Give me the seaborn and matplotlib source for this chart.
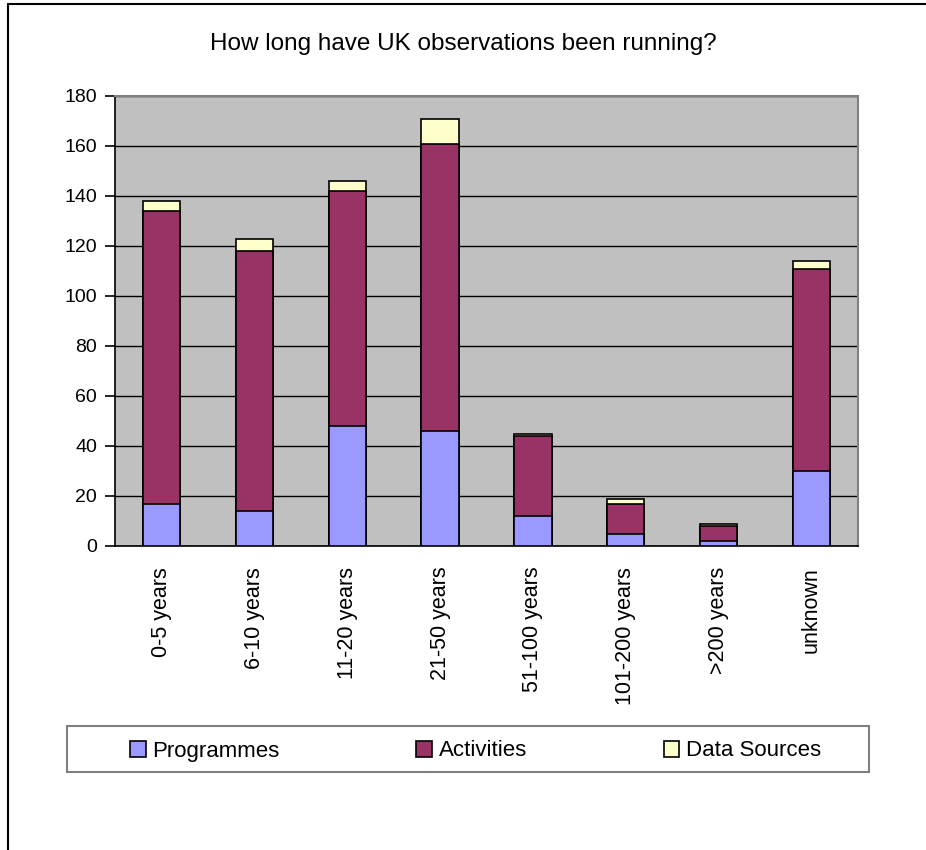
import matplotlib
matplotlib.use("Agg")
import matplotlib.pyplot as plt
from matplotlib.lines import Line2D
from matplotlib.patches import Patch, Rectangle
import numpy as np
import pandas as pd
import seaborn as sns

categories = ["0-5 years", "6-10 years", "11-20 years", "21-50 years",
              "51-100 years", "101-200 years", ">200 years", "unknown"]
programmes = [17, 14, 48, 46, 12, 5, 2, 30]
activities = [117, 104, 94, 115, 32, 12, 6, 81]
data_sources = [4, 5, 4, 10, 1, 2, 1, 3]

series_names = ["Programmes", "Activities", "Data Sources"]
series_colors = ["#9999FF", "#993366", "#FFFFCC"]
y_ticks = list(range(0, 181, 20))

sns.set_style("white")
plt.rcParams["font.family"] = ["Liberation Sans", "DejaVu Sans"]
plt.rcParams["text.color"] = "black"
plt.rcParams["xtick.color"] = "black"
plt.rcParams["ytick.color"] = "black"
plt.rcParams["axes.labelcolor"] = "black"

fig = plt.figure(figsize=(9.26, 8.5), dpi=100)
ax = fig.add_axes([115 / 926, 1 - 546 / 850, (858 - 115) / 926, (546 - 96) / 850])
ax.set_facecolor("#C0C0C0")

# Stacked bars: draw cumulative totals from top segment down
stack = np.vstack([programmes, activities, data_sources])
cum = np.cumsum(stack, axis=0)
for i in reversed(range(3)):
    df = pd.DataFrame({"cat": categories, "val": cum[i]})
    sns.barplot(data=df, x="cat", y="val", color=series_colors[i],
                saturation=1, width=0.4, edgecolor="black", linewidth=1.2,
                ax=ax, zorder=3)

ax.set_ylim(0, 180)
ax.set_xlim(-0.5, len(categories) - 0.5)
ax.set_yticks(y_ticks)
ax.set_yticklabels([str(t) for t in y_ticks], fontsize=14)
ax.yaxis.grid(True, color="black", linewidth=1.0, zorder=1)
ax.set_axisbelow(True)
ax.set_xlabel("")
ax.set_ylabel("")

# Category labels centered, tick marks at category boundaries
ax.set_xticks(range(len(categories)))
ax.set_xticklabels(categories, rotation=90, fontsize=15.5, va="top")
ax.tick_params(axis="x", which="major", length=0, pad=15)
ax.set_xticks(np.arange(-0.5, len(categories), 1.0), minor=True)
ax.tick_params(axis="x", which="minor", length=7, width=1.2, color="black", direction="out")
ax.tick_params(axis="y", length=7, width=1.2, color="black", direction="out", left=True, pad=6)

for side in ["left", "bottom"]:
    ax.spines[side].set_color("black")
    ax.spines[side].set_linewidth(1.2)
for side in ["top", "right"]:
    ax.spines[side].set_visible(True)
    ax.spines[side].set_color("#808080")
    ax.spines[side].set_linewidth(1.5)

fig.text(463 / 926, 1 - 44 / 850, "How long have UK observations been running?",
         ha="center", va="center", fontsize=17.5)

# Legend box
fig.add_artist(Rectangle((67 / 926, 1 - 772 / 850), (869 - 67) / 926, (772 - 726) / 850,
                         transform=fig.transFigure, facecolor="white",
                         edgecolor="#808080", linewidth=1.5, zorder=1))
handles = [Patch(facecolor=c, edgecolor="black", linewidth=1.2) for c in series_colors]
leg = fig.legend(handles, series_names, loc="center",
                 bbox_to_anchor=(130 / 926, 1 - 774 / 850, (821 - 130) / 926, (772 - 726) / 850),
                 mode="expand", ncol=3, fontsize=16, frameon=False,
                 handlelength=0.7, handleheight=0.7, handletextpad=0.3,
                 borderaxespad=0, borderpad=0)
leg.set_zorder(2)

# Chart area border
fig.add_artist(Line2D([8 / 926, 1.0], [1 - 4 / 850, 1 - 4 / 850], color="black", linewidth=1.5))
fig.add_artist(Line2D([8 / 926, 8 / 926], [0.0, 1 - 4 / 850], color="black", linewidth=1.5))

fig.savefig("out.png", dpi=100)
